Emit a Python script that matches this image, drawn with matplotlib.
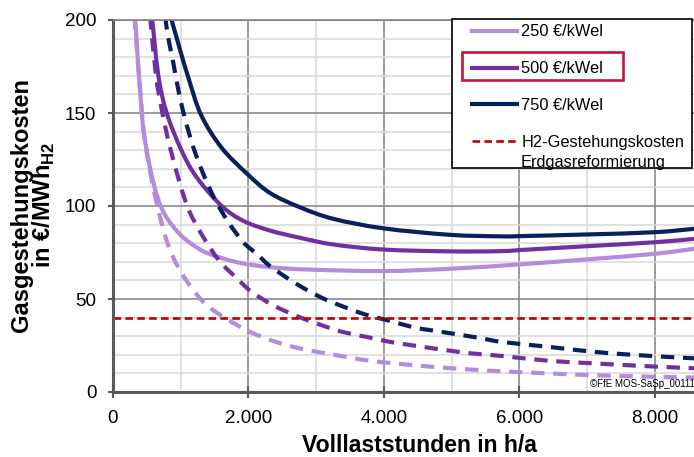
import matplotlib
matplotlib.use("Agg")
import matplotlib.pyplot as plt
from matplotlib.patches import Rectangle, PathPatch
from matplotlib.path import Path
from matplotlib.lines import Line2D
from matplotlib.ticker import MultipleLocator, FuncFormatter

plt.rcParams['font.family'] = ['Liberation Sans', 'DejaVu Sans']
plt.rcParams['mathtext.fontset'] = 'custom'
plt.rcParams['mathtext.rm'] = 'Liberation Sans'
plt.rcParams['mathtext.bf'] = 'Liberation Sans:bold'

# Volllaststunden (h/a) und Gasgestehungskosten (EUR/MWh_H2)
h_250 = [325, 424, 497, 600, 704, 817, 980, 1137, 1384, 1827, 2319, 2910, 4000, 5000, 6000, 7000, 8000, 8600]
v_250 = [202, 150, 130, 112, 100, 92.4, 85.1, 80.2, 74.8, 69.8, 67.1, 65.8, 65, 66.3, 68.6, 71.3, 74.3, 77.1]

h_250_d = [315, 438, 497, 566, 645, 783, 931, 1113, 1359, 1669, 2024, 2418, 2762, 3205, 3796, 4535, 5224, 5765, 6430, 7366, 8424, 8600]
v_250_d = [202, 146, 129, 115, 101.5, 82.4, 69.3, 58.4, 47.5, 39.5, 32.3, 26.8, 23.4, 20.4, 16.8, 14.1, 12.2, 11.1, 10.0, 8.7, 7.9, 7.7]

h_500 = [575, 670, 793, 1014, 1236, 1605, 1925, 2319, 2762, 3254, 3993, 4978, 5716, 6000, 7000, 8000, 8600]
v_500 = [202, 170, 150, 129.7, 115.4, 100, 92, 86.8, 82.9, 79.3, 76.6, 75.6, 75.7, 76.3, 78.4, 80.5, 82.4]

h_500_d = [548, 635, 719, 793, 867, 1000, 1123, 1310, 1566, 1836, 2049, 2368, 2723, 3082, 3387, 3747, 4052, 4436, 5101, 5406, 5765, 6430, 7095, 7759, 8424, 8600]
v_500_d = [202, 170, 152, 139, 128, 110.6, 97.5, 84.7, 70.7, 60.9, 53.8, 46.6, 40.7, 35.9, 32.3, 29.6, 27.2, 25, 21.6, 20.4, 19.3, 16.8, 15.4, 14.1, 13, 12.8]

h_750 = [850, 990, 1113, 1300, 1600, 1975, 2319, 2762, 3254, 3993, 4978, 5716, 6000, 7000, 8000, 8600]
v_750 = [202, 184, 169, 149, 131.5, 117.5, 107, 99.3, 93.1, 88, 84.5, 83.7, 83.8, 84.7, 85.9, 87.8]

h_750_d = [775, 802, 886, 955, 1034, 1137, 1221, 1344, 1507, 1704, 1925, 2131, 2319, 2688, 3058, 3387, 3732, 4052, 4436, 4716, 5101, 5406, 5765, 6430, 7095, 7759, 8424, 8600]
v_750_d = [202, 193, 177.9, 164.2, 151.1, 137.4, 127.9, 116.3, 103.4, 91.3, 80.5, 74, 67.7, 58.6, 51.1, 46.1, 41.6, 38.6, 34.8, 33.1, 30.9, 29.1, 26.8, 24.3, 21.6, 19.8, 18.4, 18.1]

h_ref = [0, 8600]
v_ref = [40, 40]

labels = ["250 €/kWel", "500 €/kWel", "750 €/kWel", "H2-Gestehungskosten", "Erdgasreformierung"]
c_250 = "#b48cdc"
c_500 = "#7030a0"
c_750 = "#0a1f5c"
c_ref = "#c00000"


def smooth_line(ax, xs, ys, **kw):
    # geglaettete Linie wie in Excel (Catmull-Rom als Bezier)
    pts = list(zip(xs, ys))
    n = len(pts)
    verts = [pts[0]]
    codes = [Path.MOVETO]
    for i in range(n - 1):
        p0 = pts[i - 1] if i > 0 else pts[i]
        p1, p2 = pts[i], pts[i + 1]
        p3 = pts[i + 2] if i + 2 < n else pts[i + 1]
        c1 = (p1[0] + (p2[0] - p0[0]) / 6, p1[1] + (p2[1] - p0[1]) / 6)
        c2 = (p2[0] - (p3[0] - p1[0]) / 6, p2[1] - (p3[1] - p1[1]) / 6)
        verts += [c1, c2, p2]
        codes += [Path.CURVE4] * 3
    patch = PathPatch(Path(verts, codes), fill=False, capstyle='butt', joinstyle='round', zorder=2, **kw)
    ax.add_patch(patch)
    return patch


W, H = 694, 457
fig = plt.figure(figsize=(W / 100, H / 100), dpi=100)
ax = fig.add_axes([113 / W, 65 / H, 581 / W, 372 / H])

dash = (0, (3.2, 2.1))
lw = 3.0
smooth_line(ax, h_250, v_250, edgecolor=c_250, lw=lw)
smooth_line(ax, h_500, v_500, edgecolor=c_500, lw=lw)
smooth_line(ax, h_750, v_750, edgecolor=c_750, lw=lw)
smooth_line(ax, h_250_d, v_250_d, edgecolor=c_250, lw=lw, linestyle=dash)
smooth_line(ax, h_500_d, v_500_d, edgecolor=c_500, lw=lw, linestyle=dash)
smooth_line(ax, h_750_d, v_750_d, edgecolor=c_750, lw=lw, linestyle=dash)
ref_style = dict(color=c_ref, lw=1.9, linestyle=(0, (2.9, 1.6)))
ax.plot(h_ref, v_ref, **ref_style)

ax.set_xlim(0, 8580)
ax.set_ylim(0, 200)

ax.xaxis.set_major_locator(MultipleLocator(2000))
ax.xaxis.set_minor_locator(MultipleLocator(1000))
ax.yaxis.set_major_locator(MultipleLocator(50))
ax.yaxis.set_minor_locator(MultipleLocator(10))
ax.xaxis.set_major_formatter(FuncFormatter(lambda x, p: f"{int(x):,}".replace(",", ".")))

ax.grid(which='minor', color='#d9d9d9', lw=1.1, zorder=0)
ax.grid(which='major', color='#808080', lw=1.1, zorder=0)
ax.set_axisbelow(True)

ax.tick_params(axis='x', which='major', direction='inout', length=8.6, width=1.5, color='#595959',
               pad=8.5, labelsize=13.5)
ax.tick_params(axis='y', which='major', direction='out', length=3.6, width=1.5, color='#595959',
               pad=8.4, labelsize=13.5)
ax.tick_params(which='minor', length=0)

for s in ['left', 'bottom']:
    ax.spines[s].set_color('#595959')
    ax.spines[s].set_linewidth(2.2)
ax.spines['top'].set_color('#808080')
ax.spines['top'].set_linewidth(1.2)
ax.spines['right'].set_visible(False)

# Achsenbeschriftungen
ax.set_xlabel("Volllaststunden in h/a", fontsize=16.6, fontweight='bold', va='baseline')
ax.xaxis.set_label_coords((419 - 113) / 581, (392 - 452.5) / 372)
ax.set_ylabel("Gasgestehungskosten\nin €/MWh$_{\\mathbf{H2}}$", fontsize=17, fontweight='bold',
              linespacing=0.9, va='bottom', ha='center', multialignment='center')
ax.yaxis.set_label_coords((57 - 113) / 581, (392 - 205) / 372)

# Legende
ax.add_patch(Rectangle((451.7 / W, 1 - 168 / H), 240 / W, 149 / H, transform=fig.transFigure,
                       facecolor='white', edgecolor='black', lw=1.2, zorder=4, clip_on=False))
handles = [Line2D([], [], color=c_250, lw=lw), Line2D([], [], color=c_500, lw=lw),
           Line2D([], [], color=c_750, lw=lw), Line2D([], [], **ref_style)]
leg = ax.legend(handles=handles, labels=labels[:4], loc='upper left',
                bbox_to_anchor=(472 / W, 1 - 24.5 / H), bbox_transform=fig.transFigure,
                frameon=False, borderpad=0, borderaxespad=0, handlelength=2.75,
                handletextpad=0.25, labelspacing=1.33, fontsize=11.8)
leg.set_zorder(5)
fig.text(521 / W, 1 - 167 / H, labels[4], fontsize=11.8, ha='left', va='baseline', zorder=6)
ax.add_patch(Rectangle((461.7 / W, 1 - 80 / H), 161 / W, 28.3 / H, transform=fig.transFigure,
                       facecolor='none', edgecolor='#c0143c', lw=1.9, zorder=6, clip_on=False))

fig.text(590 / W, 1 - 387 / H, "©FfE MOS-SaSp_00111", fontsize=7, ha='left', va='baseline')

fig.savefig("out.png", dpi=100)
